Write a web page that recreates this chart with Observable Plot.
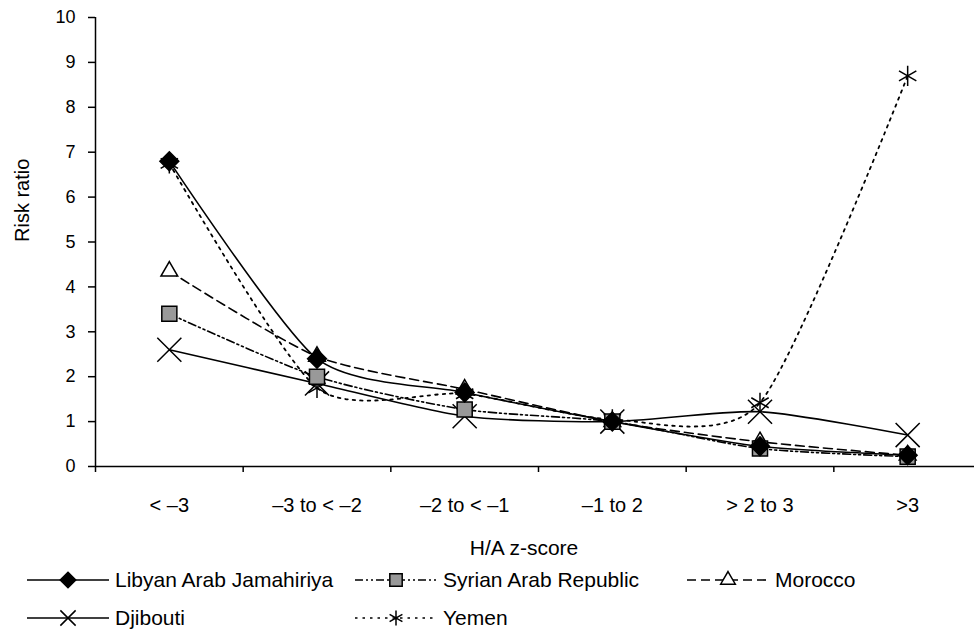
<!DOCTYPE html>
<html><head><meta charset="utf-8">
<script src="https://cdn.jsdelivr.net/npm/d3@7"></script>
<script src="https://cdn.jsdelivr.net/npm/@observablehq/plot@0.6"></script>
<style>
body{margin:0;background:#fff;font-family:"Liberation Sans",Arial,sans-serif;overflow:hidden;}
#chart svg{display:block}
</style>
</head><body><div id="chart"></div><script>
const categories = ["< –3", "–3 to < –2", "–2 to < –1", "–1 to 2", "> 2 to 3", ">3"];
const seriesNames = ["Libyan Arab Jamahiriya", "Syrian Arab Republic", "Morocco", "Djibouti", "Yemen"];
const libyan   = [6.8, 2.4, 1.65, 1.0, 0.45, 0.25];
const syrian   = [3.4, 2.0, 1.27, 1.0, 0.4, 0.22];
const morocco  = [4.35, 2.45, 1.72, 1.0, 0.55, 0.25];
const djibouti = [2.6, 1.85, 1.12, 1.0, 1.22, 0.7];
const yemen    = [6.75, 1.75, 1.62, 1.05, 1.42, 8.7];
const yTicks = [0, 1, 2, 3, 4, 5, 6, 7, 8, 9, 10];
const xLabel = "H/A z-score";
const yLabel = "Risk ratio";

const styles = [
  {values: libyan,   dash: null,             symbol: "diamond2", fill: "#000",  r: 8.5, sw: 1.6},
  {values: syrian,   dash: "8,3,2,3,2,3",    symbol: "square",   fill: "#999",  r: 8.5, sw: 1.6},
  {values: morocco,  dash: "9,5",            symbol: "triangle2",fill: "#fff",  r: 8,   sw: 1.6},
  {values: djibouti, dash: null,             symbol: "times",    fill: "none",  r: 11,  sw: 1.6},
  {values: yemen,    dash: "2.5,5",          symbol: "asterisk", fill: "none",  r: 9.5, sw: 1.8}
];

const data = styles.map((s, k) => s.values.map((v, i) => ({series: seriesNames[k], x: i + 0.5, v})));

const lineMarks = styles.map((s, k) => Plot.line(data[k], {
  x: "x", y: "v", stroke: "#000", strokeWidth: s.sw,
  strokeDasharray: s.dash || undefined, curve: "cardinal", tension: 0.3
}));
const dotOrder = [4, 3, 2, 1, 0];
const dotMarks = dotOrder.map(k => {
  const s = styles[k];
  return Plot.dot(data[k], {
    x: "x", y: "v", symbol: () => s.symbol, r: s.r,
    fill: s.fill, stroke: "#000", strokeWidth: 1.5
  });
});

const chart = Plot.plot({
  width: 974, height: 560,
  marginLeft: 95, marginRight: 0, marginTop: 17, marginBottom: 94,
  x: {type: "linear", domain: [0, 6], range: [95, 981]},
  y: {domain: [0, 10]},
  symbol: {type: "identity"},
  style: {fontFamily: "'Liberation Sans', Arial, sans-serif", fontSize: "18px", color: "#000", background: "#fff"},
  marks: [
    Plot.axisY({ticks: yTicks, tickSize: 7, tickPadding: 13, label: null, tickFormat: d => String(d), strokeWidth: 1.5, fontSize: 18}),
    Plot.axisX({ticks: d3.range(7), tickSize: 6, tickFormat: () => "", label: null, strokeWidth: 1.5}),
    Plot.text(categories, {x: (d, i) => i + 0.5, frameAnchor: "bottom", dy: 39, lineAnchor: "middle", fontSize: 20, fill: "#000"}),
    Plot.text([xLabel], {frameAnchor: "bottom", dx: -11, dy: 82, lineAnchor: "middle", fontSize: 21, fill: "#000"}),
    Plot.text([yLabel], {frameAnchor: "left", dx: -73, rotate: -90, lineAnchor: "middle", fontSize: 20, fill: "#000"}),
    Plot.ruleY([0], {strokeWidth: 1.5}),
    Plot.ruleX([0], {strokeWidth: 1.5}),
    ...lineMarks,
    ...dotMarks
  ]
});
document.getElementById("chart").appendChild(chart);

// Legend below the chart
const legendItems = [
  {k: 0, lx: 27, ly: 20}, {k: 1, lx: 355, ly: 20}, {k: 2, lx: 687, ly: 20},
  {k: 3, lx: 27, ly: 58}, {k: 4, lx: 355, ly: 58}
];
const symMap = {diamond2: d3.symbolDiamond2, square: d3.symbolSquare, triangle2: d3.symbolTriangle2, times: d3.symbolTimes, asterisk: d3.symbolAsterisk};
const lsvg = d3.select("#chart").append("svg").attr("width", 974).attr("height", 71)
  .style("font-family", "'Liberation Sans', Arial, sans-serif");
legendItems.forEach(it => {
  const s = styles[it.k];
  const len = 82;
  const g = lsvg.append("g").attr("transform", `translate(${it.lx},${it.ly})`);
  g.append("line").attr("x1", 0).attr("x2", len).attr("y1", 0).attr("y2", 0)
    .attr("stroke", "#000").attr("stroke-width", 1.6)
    .attr("stroke-dasharray", s.dash || null);
  const rr = 7;
  g.append("path").attr("transform", `translate(${len / 2},0)`)
    .attr("d", d3.symbol(symMap[s.symbol], Math.PI * rr * rr)())
    .attr("fill", s.fill).attr("stroke", "#000").attr("stroke-width", 1.5);
  g.append("text").attr("x", len + 6).attr("y", 0).attr("dy", "0.35em")
    .attr("font-size", 21).text(seriesNames[it.k]);
});
</script></body></html>
